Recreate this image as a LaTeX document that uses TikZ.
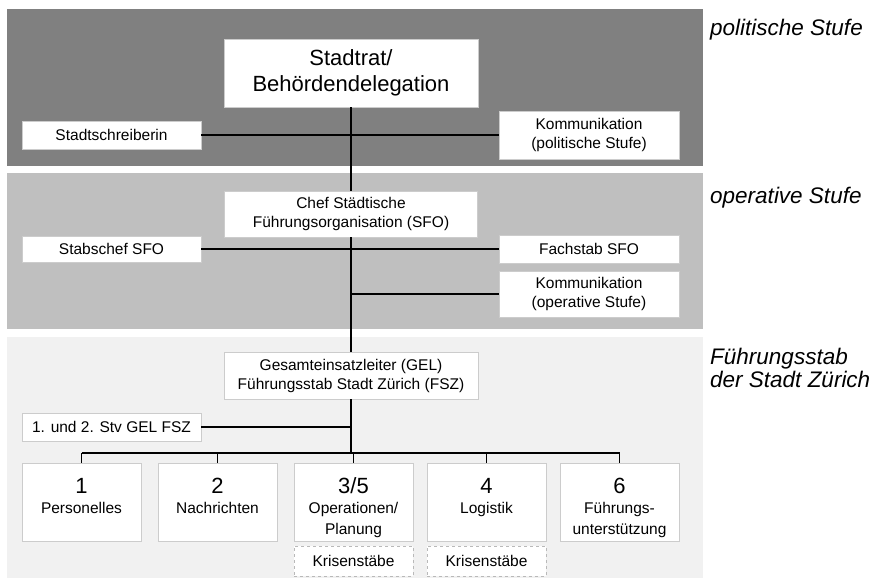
\documentclass[tikz,border=0pt]{standalone}
\usepackage{fontspec}
\setmainfont{Liberation Sans}
\usetikzlibrary{positioning}

\definecolor{polGrau}{gray}{0.5}
\definecolor{opGrau}{gray}{0.75}
\definecolor{fsGrau}{gray}{0.945}
\definecolor{randGrau}{gray}{0.8}

\newcommand{\klein}{\fontsize{15.5}{19}\selectfont}
\newcommand{\gross}{\fontsize{22}{26}\selectfont}
\newcommand{\fachgebiet}[2]{\parbox[t][78pt][t]{117pt}{\centering\gross\rule{0pt}{30pt}#1\par\fontsize{15.5}{20.5}\selectfont #2\par}}

\begin{document}
\begin{tikzpicture}[x=1pt,y=-1pt,
		stelle/.style={draw=randGrau, fill=white, line width=0.8pt, inner sep=0pt, align=center, font=\klein},
		krise/.style={stelle, dashed, draw=gray!55},
		ebene/.style={inner sep=0pt, align=left, font=\fontsize{22.5}{22.5}\selectfont\itshape},
		verbindung/.style={line width=1.1pt}]
				
				\useasboundingbox (0,0) rectangle (882,579);
				
				\fill[polGrau] (7,9) rectangle (703,166);
				\fill[opGrau] (7,173) rectangle (703,329);
				\fill[fsGrau] (7,337) rectangle (703,578);
				
				\node[ebene, anchor=base west] (lblPol) at (710,35) {politische Stufe};
				\node[ebene, anchor=base west] (lblOp) at (710,203) {operative Stufe};
				\node[ebene, anchor=north west] (lblFSZ) at (710,348) {Führungsstab\\der Stadt Zürich};
				
				\node[stelle, minimum width=254pt, minimum height=68pt, font=\gross] (stadtrat) at (351,73) {Stadtrat/\\Behördendelegation};
				\node[stelle, minimum width=179pt, minimum height=28pt] (schreiberin) at (111.5,135) {Stadtschreiberin};
				\node[stelle, minimum width=180pt, minimum height=48pt] (kommPol) at (589,135) {Kommunikation\\(politische Stufe)};
				\draw[verbindung] (schreiberin) -- (kommPol);
				
				\node[stelle, minimum width=253pt, minimum height=46pt] (chefSFO) at (351,214) {Chef Städtische\\Führungsorganisation (SFO)};
				\node[stelle, minimum width=179pt, minimum height=26pt] (stabschef) at (111.5,249) {Stabschef SFO};
				\node[stelle, minimum width=180pt, minimum height=28pt] (fachstab) at (589,249) {Fachstab SFO};
				\node[stelle, minimum width=180pt, minimum height=46pt] (kommOp) at (589,294) {Kommunikation\\(operative Stufe)};
				\draw[verbindung] (stadtrat) -- (chefSFO);
				\draw[verbindung] (stabschef) -- (fachstab);
				\draw[verbindung] (kommOp.west) -- (kommOp.west -| chefSFO.south);
				
				\node[stelle, minimum width=254pt, minimum height=47pt] (gel) at (351,375.5) {Gesamteinsatzleiter (GEL)\\Führungsstab Stadt Zürich (FSZ)};
				\node[stelle, minimum width=179pt, minimum height=28pt] (stv) at (111.5,427) {1. und 2. Stv GEL FSZ};
				\draw[verbindung] (chefSFO) -- (gel);
				\draw[verbindung] (stv.east) -- (stv.east -| gel.south);
				
				\node[stelle, minimum width=119pt, anchor=north] (fg1) at (81.5,463) {\fachgebiet{1}{Personelles}};
				\node[stelle, minimum width=119pt, anchor=north] (fg2) at (217.5,463) {\fachgebiet{2}{Nachrichten}};
				\node[stelle, minimum width=119pt, anchor=north] (fg35) at (353.5,463) {\fachgebiet{3/5}{Operationen/\\Planung}};
				\node[stelle, minimum width=119pt, anchor=north] (fg4) at (486.5,463) {\fachgebiet{4}{Logistik}};
				\node[stelle, minimum width=119pt, anchor=north] (fg6) at (619.5,463) {\fachgebiet{6}{Führungs-\\unterstützung}};
				\node[krise, minimum width=119pt, minimum height=30pt] (krise35) at (353.5,561) {Krisenstäbe};
				\node[krise, minimum width=119pt, minimum height=30pt] (krise4) at (486.5,561) {Krisenstäbe};
				
				\coordinate (bus) at (351,453);
				\draw[verbindung, line width=1.4pt] (gel.south) -- (bus);
				\draw[verbindung] (bus -| fg1.north) -- (bus -| fg6.north);
				\foreach \n in {1,2,35,4,6}
					\draw[verbindung] (bus -| fg\n.north) -- (fg\n.north);
				
\end{tikzpicture}
\end{document}
